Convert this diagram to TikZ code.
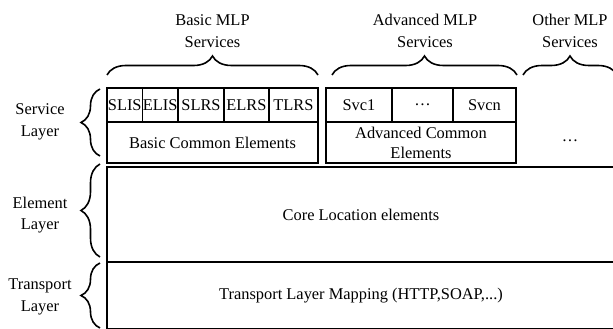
\documentclass[tikz,border=0pt]{standalone}
\usepackage{fontspec}
\setmainfont{Liberation Serif}
\usetikzlibrary{decorations.pathreplacing}
\begin{document}
\begin{tikzpicture}[x=1pt,y=-1pt,
  cell/.style={draw, line width=1.7pt, inner sep=0pt, font=\fontsize{16.4}{20}\selectfont, align=center},
  txt/.style={inner sep=0pt, font=\fontsize{16.4}{21.5}\selectfont, align=center},
  br/.style={decorate, decoration={brace, amplitude=19pt}, line width=1.6pt}]
\useasboundingbox (0,0) rectangle (613,329);
% basic
\node[cell, minimum width=35.5pt, minimum height=34pt] (slis) at (124.75,105) {SLIS};
\node[cell, minimum width=35.5pt, minimum height=34pt] (elis) at (160.25,105) {ELIS};
\node[cell, minimum width=46pt, minimum height=34pt] (slrs) at (201,105) {SLRS};
\node[cell, minimum width=45pt, minimum height=34pt] (elrs) at (246.5,105) {ELRS};
\node[cell, minimum width=49pt, minimum height=34pt] (tlrs) at (293.5,105) {TLRS};
\node[cell, minimum width=211pt, minimum height=41pt] (bce) at (212.5,142.5) {Basic Common Elements};
% advanced
\node[cell, minimum width=66pt, minimum height=34pt] (svc1) at (359,105) {Svc1};
\node[cell, minimum width=61pt, minimum height=34pt] (svcd) at (422.5,105) {…};
\node[cell, minimum width=63pt, minimum height=34pt] (svcn) at (484.5,105) {Svcn};
\node[cell, minimum width=190pt, minimum height=41pt] (ace) at (421,142.5) {Advanced Common\\Elements};
% other
\node[txt] (oth) at (570,141) {…};
% element and transport
\node[cell, minimum width=508pt, minimum height=95pt] (core) at (361,214.5) {Core Location elements};
\node[cell, minimum width=508pt, minimum height=66.5pt] (trans) at (361,295.25) {Transport Layer Mapping (HTTP,SOAP,...)};
% top braces
\draw[br] (107,75) -- (318,75);
\draw[br] (332,75) -- (517,75);
\draw[br] (523,75) -- (617,75);
\node[txt] (lbasic) at (212.5,31) {Basic MLP\\Services};
\node[txt] (ladv) at (425,31) {Advanced MLP\\Services};
\node[txt] (loth) at (570,31) {Other MLP\\Services};
% left braces
\draw[br] (100,156) -- (100,89);
\draw[br] (100,257) -- (100,164);
\draw[br] (100,328) -- (100,263);
\node[txt] (lsvc) at (40,122) {Service\\Layer};
\node[txt] (lel) at (40,215) {Element\\Layer};
\node[txt] (ltr) at (40,297) {Transport\\Layer};
\end{tikzpicture}
\end{document}
